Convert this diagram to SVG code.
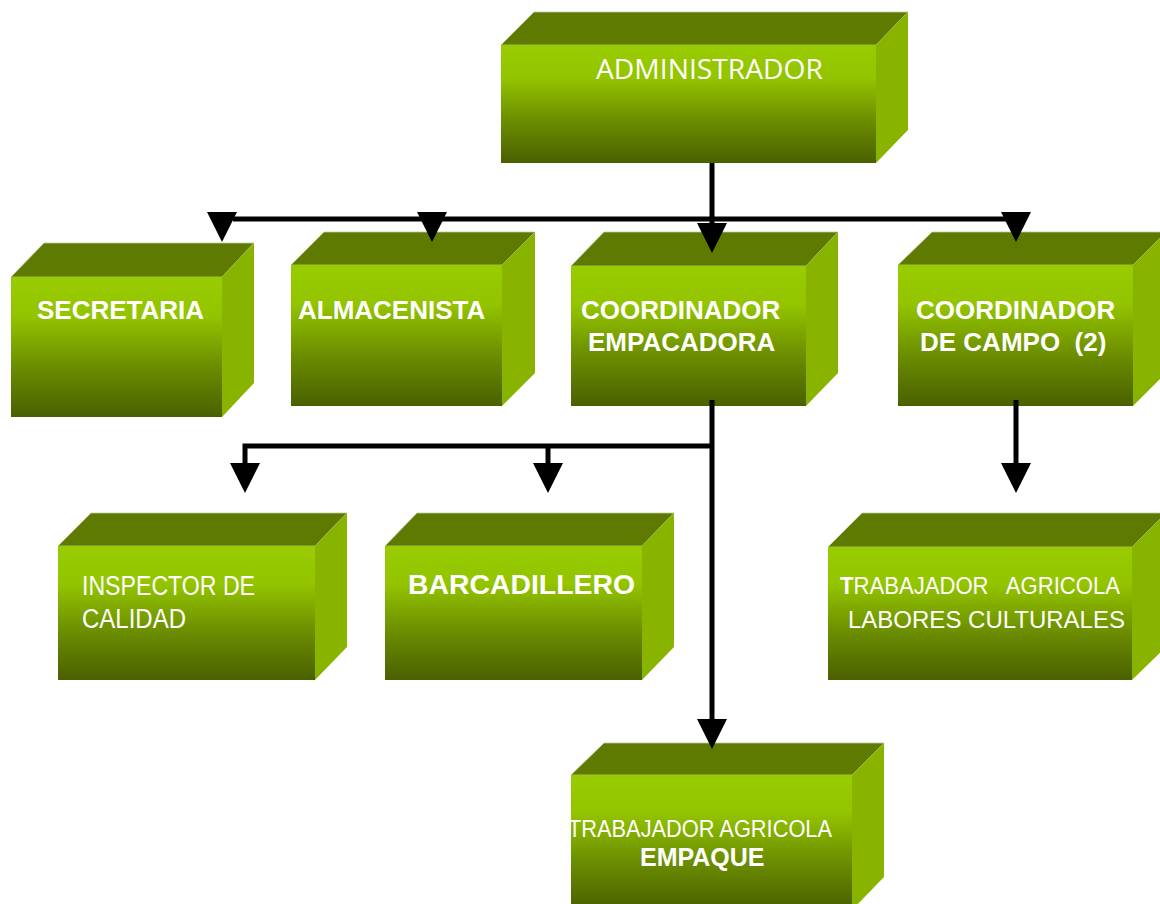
<svg xmlns="http://www.w3.org/2000/svg" xmlns:xlink="http://www.w3.org/1999/xlink" width="1160" height="904" viewBox="0 0 1160 904">
<defs>
<linearGradient id="front" x1="0" y1="0" x2="0" y2="1">
<stop offset="0" stop-color="#99cc00"/>
<stop offset="0.28" stop-color="#93c400"/>
<stop offset="0.65" stop-color="#6a8c00"/>
<stop offset="1" stop-color="#4a6000"/>
</linearGradient>
<polygon id="ah" points="-15,0 15,0 0,30"/>
<style>
.top{fill:#5e7a00;stroke:#b9c99a;stroke-width:0.8;}
.side{fill:#88b400;}
.face{fill:url(#front);}
.t{fill:#ffffff;font-family:"Liberation Sans",Arial,sans-serif;}
.o{font-family:"Open Sans","Liberation Sans",sans-serif;}
.b{font-weight:bold;}
.ln{stroke:#000000;stroke-width:5;fill:none;}
.arr{fill:#000000;}
</style>
</defs>
<rect width="1160" height="904" fill="#ffffff"/>

<g id="administrador">
<polygon class="top" points="501,45 534,12 908,12 876,45"/>
<polygon class="side" points="876,45 908,12 908,130 876,163"/>
<rect class="face" x="501" y="45" width="375" height="118"/>
<text class="t o" x="596" y="79" font-size="28" textLength="227" lengthAdjust="spacingAndGlyphs">ADMINISTRADOR</text>
</g>

<g id="secretaria">
<polygon class="top" points="11,277 44,243 254,243 222,277"/>
<polygon class="side" points="222,277 254,243 254,383 222,417"/>
<rect class="face" x="11" y="277" width="211" height="140"/>
<text class="t b" x="37" y="319" font-size="26">SECRETARIA</text>
</g>

<g id="almacenista">
<polygon class="top" points="291,265 324,232 535,232 502,265"/>
<polygon class="side" points="502,265 535,232 535,373 502,406"/>
<rect class="face" x="291" y="265" width="211" height="141"/>
<text class="t b" x="298" y="319" font-size="26">ALMACENISTA</text>
</g>

<g id="coordinador-empacadora">
<polygon class="top" points="571,266 604,232 838,232 806,266"/>
<polygon class="side" points="806,266 838,232 838,373 806,406"/>
<rect class="face" x="571" y="266" width="235" height="140"/>
<text class="t b" font-size="26"><tspan x="581" y="319">COORDINADOR</tspan><tspan x="588" y="351">EMPACADORA</tspan></text>
</g>

<g id="coordinador-campo">
<polygon class="top" points="898,265 932,232 1166,232 1133,265"/>
<polygon class="side" points="1133,265 1166,232 1166,373 1133,406"/>
<rect class="face" x="898" y="265" width="235" height="141"/>
<text class="t b" font-size="26" xml:space="preserve"><tspan x="916" y="319">COORDINADOR</tspan><tspan x="920" y="351">DE CAMPO  (2)</tspan></text>
</g>

<g id="inspector-calidad">
<polygon class="top" points="58,546 91,513 347,513 315,546"/>
<polygon class="side" points="315,546 347,513 347,647 315,680"/>
<rect class="face" x="58" y="546" width="257" height="134"/>
<text class="t" x="82" y="595" font-size="27" textLength="173" lengthAdjust="spacingAndGlyphs">INSPECTOR DE</text>
<text class="t" x="82" y="628" font-size="27" textLength="104" lengthAdjust="spacingAndGlyphs">CALIDAD</text>
</g>

<g id="barcadillero">
<polygon class="top" points="385,546 417,513 674,513 642,546"/>
<polygon class="side" points="642,546 674,513 674,647 642,680"/>
<rect class="face" x="385" y="546" width="257" height="134"/>
<text class="t b" x="408" y="594" font-size="27" textLength="227" lengthAdjust="spacingAndGlyphs">BARCADILLERO</text>
</g>

<g id="trabajador-labores">
<polygon class="top" points="828,547 862,513 1166,513 1132,547"/>
<polygon class="side" points="1132,547 1166,513 1166,647 1132,680"/>
<rect class="face" x="828" y="547" width="304" height="133"/>
<text class="t" x="840" y="594" font-size="24" textLength="280" lengthAdjust="spacingAndGlyphs" xml:space="preserve"><tspan class="b">T</tspan>RABAJADOR   AGRICOLA</text>
<text class="t" x="848" y="628" font-size="24" textLength="277" lengthAdjust="spacingAndGlyphs">LABORES CULTURALES</text>
</g>

<g id="trabajador-empaque">
<polygon class="top" points="571,775 604,743 884,743 852,775"/>
<polygon class="side" points="852,775 884,743 884,877 852,910"/>
<rect class="face" x="571" y="775" width="281" height="135"/>
<text class="t" x="568" y="837" font-size="24" textLength="264" lengthAdjust="spacingAndGlyphs">TRABAJADOR AGRICOLA</text>
<text class="t b" x="640" y="866" font-size="25">EMPAQUE</text>
</g>

<g id="connectors">
<line class="ln" x1="712" y1="163" x2="712" y2="226"/>
<line class="ln" x1="233" y1="219" x2="1010" y2="219"/>
<line class="ln" x1="712" y1="400" x2="712" y2="721"/>
<polyline class="ln" points="245,465 245,446 712,446"/>
<line class="ln" x1="548" y1="446" x2="548" y2="465"/>
<line class="ln" x1="1016" y1="400" x2="1016" y2="465"/>
<use xlink:href="#ah" class="arr" x="222" y="212"/>
<use xlink:href="#ah" class="arr" x="432" y="212"/>
<use xlink:href="#ah" class="arr" x="712" y="223"/>
<use xlink:href="#ah" class="arr" x="1016" y="212"/>
<use xlink:href="#ah" class="arr" x="245" y="463"/>
<use xlink:href="#ah" class="arr" x="548" y="463"/>
<use xlink:href="#ah" class="arr" x="1016" y="463"/>
<use xlink:href="#ah" class="arr" x="712" y="719"/>
</g>
</svg>
